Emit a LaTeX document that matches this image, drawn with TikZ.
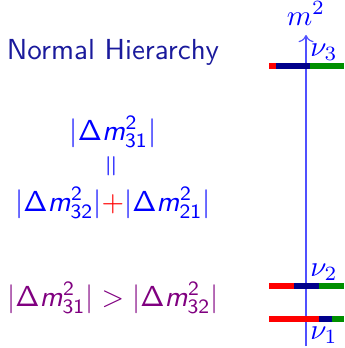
\documentclass[tikz,border=0pt]{standalone}
\usetikzlibrary{arrows.meta}
\DeclareMathAlphabet{\mathsfit}{OT1}{cmss}{m}{sl}
\newcommand{\dmsq}[1]{|\mathsf{\Delta}\mathsfit{m}^{\mathsf{2}}_{\mathsf{#1}}|}
\definecolor{titleBlue}{HTML}{1A1A9C}
\definecolor{textBlue}{HTML}{0000FF}
\definecolor{textPurple}{HTML}{800080}
\definecolor{axisBlue}{HTML}{5050FF}
\definecolor{barRed}{HTML}{FF0000}
\definecolor{barNavy}{HTML}{00008B}
\definecolor{barGreen}{HTML}{009000}

\begin{document}
\begin{tikzpicture}[
    x=0.345pt, y=-0.345pt,
    sftext/.style={font=\sffamily, inner sep=0pt},
    bar/.style={line width=2.2pt},
    levellabel/.style={textBlue, inner sep=0pt}
]
    \useasboundingbox (0,0) rectangle (344,348);

    % ==========================================
    % 1. RELATIONS (Left side)
    % ==========================================

    \node[sftext, titleBlue] (title) at (113, 52) {Normal Hierarchy};

    \node[sftext, textBlue] (dm31) at (113, 132) {$\dmsq{31}$};
    \node[sftext, textBlue, rotate=90] (equal) at (113, 166) {$=$};
    \node[sftext, textBlue] (dmsum) at (113, 203) {$\dmsq{32}{\color{barRed}+}\dmsq{21}$};

    \node[sftext, textPurple] (ineq) at (113, 298) {$\dmsq{31} > \dmsq{32}$};

    % ==========================================
    % 2. MASS AXIS (Right side)
    % ==========================================

    \coordinate (axisbot) at (306, 346);
    \coordinate (axistop) at (306, 35);
    \draw[axisBlue, ->] (axisbot) -- (axistop);
    \node[levellabel, anchor=south] (msq) at (306, 26) {$m^2$};

    % nu_3
    \draw[bar, barRed]   (269, 66) -- (276, 66);
    \draw[bar, barNavy]  (276, 66) -- (310, 66);
    \draw[bar, barGreen] (310, 66) -- (344, 66);
    \node[levellabel] (nu3) at (324, 52) {$\nu_3$};

    % nu_2
    \draw[bar, barRed]   (269, 286) -- (294, 286);
    \draw[bar, barNavy]  (294, 286) -- (319, 286);
    \draw[bar, barGreen] (319, 286) -- (344, 286);
    \node[levellabel] (nu2) at (324, 272) {$\nu_2$};

    % nu_1
    \draw[bar, barRed]   (269, 319) -- (319, 319);
    \draw[bar, barNavy]  (319, 319) -- (332, 319);
    \draw[bar, barGreen] (332, 319) -- (344, 319);
    \node[levellabel] (nu1) at (324, 335) {$\nu_1$};

\end{tikzpicture}
\end{document}
